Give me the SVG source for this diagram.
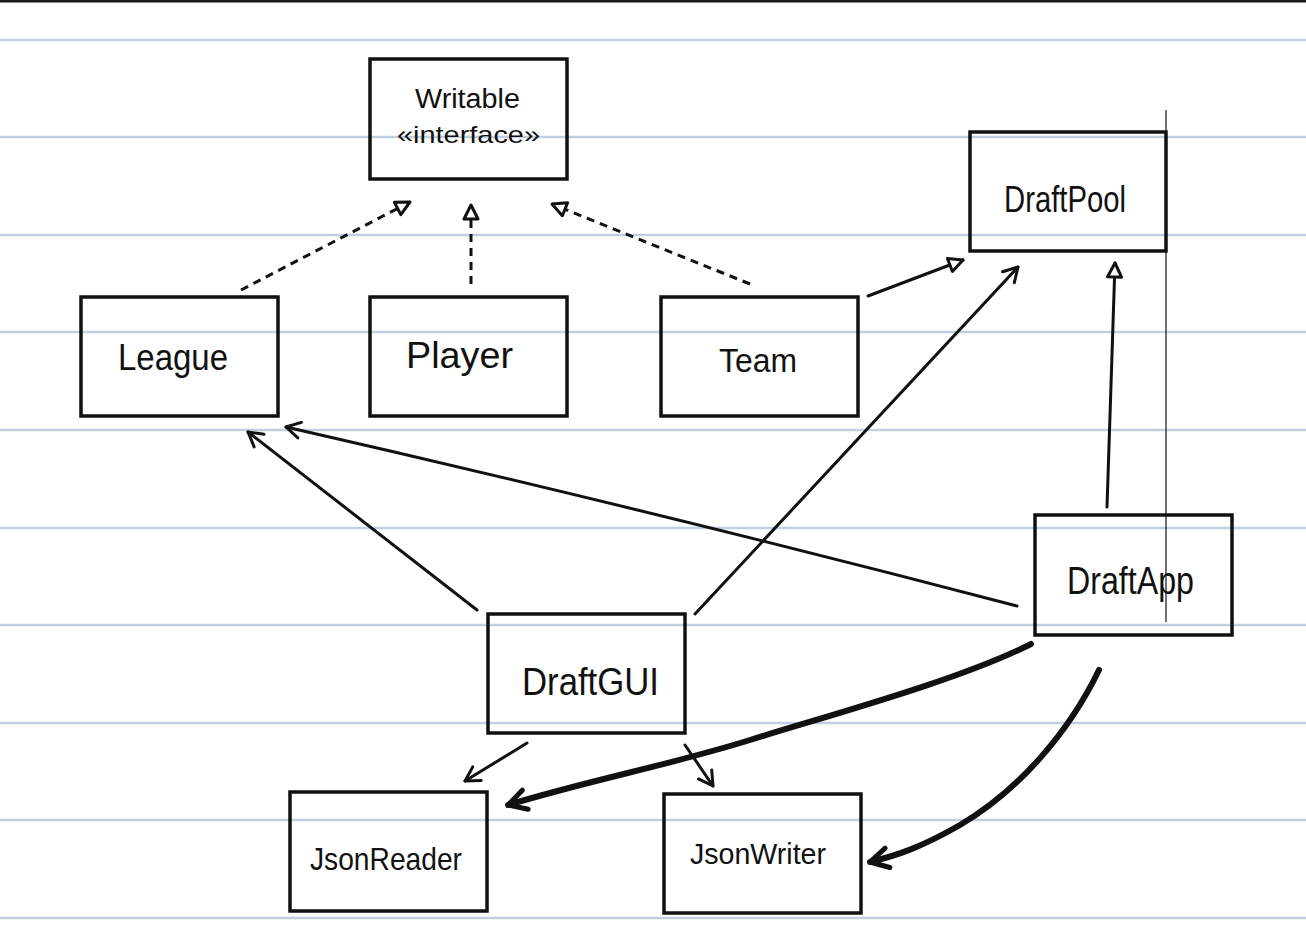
<svg xmlns="http://www.w3.org/2000/svg" width="1306" height="950" viewBox="0 0 1306 950">
<defs>
<style>
.rule{stroke:#c3cfe0;stroke-width:2.5}
.box{fill:none;stroke:#111;stroke-width:3.5}
.lbl{font-family:"Liberation Sans",Arial,sans-serif;fill:#111;text-anchor:start}
.dash{fill:none;stroke:#111;stroke-width:3;stroke-dasharray:8 6}
.ln{fill:none;stroke:#111;stroke-width:3;stroke-linecap:round}
.thick{fill:none;stroke:#111;stroke-width:6;stroke-linecap:round}
</style>
<marker id="tri" viewBox="0 0 20 20" refX="17" refY="10" markerWidth="20" markerHeight="20" markerUnits="userSpaceOnUse" orient="auto">
<path d="M3,3 L17,10 L3,17 Z" fill="#fff" stroke="#111" stroke-width="3" stroke-linejoin="round"/>
</marker>
<marker id="vee" viewBox="0 0 20 20" refX="18" refY="10" markerWidth="20" markerHeight="20" markerUnits="userSpaceOnUse" orient="auto">
<path d="M4,2 L18,10 L4,18" fill="none" stroke="#111" stroke-width="3" stroke-linecap="round" stroke-linejoin="round"/>
</marker>
<marker id="veeT" viewBox="0 0 26 26" refX="23" refY="13" markerWidth="26" markerHeight="26" markerUnits="userSpaceOnUse" orient="auto">
<path d="M5,3 L23,13 L5,23" fill="none" stroke="#111" stroke-width="5" stroke-linecap="round" stroke-linejoin="round"/>
</marker>
</defs>
<rect x="0" y="0" width="1306" height="950" fill="#fff"/>
<g id="paper">
<line x1="0" y1="1" x2="1306" y2="1" stroke="#1a1a1a" stroke-width="3"/>
<line class="rule" x1="0" y1="40" x2="1306" y2="40"/>
<line class="rule" x1="0" y1="137" x2="1306" y2="137"/>
<line class="rule" x1="0" y1="235" x2="1306" y2="235"/>
<line class="rule" x1="0" y1="332" x2="1306" y2="332"/>
<line class="rule" x1="0" y1="430" x2="1306" y2="430"/>
<line class="rule" x1="0" y1="528" x2="1306" y2="528"/>
<line class="rule" x1="0" y1="625" x2="1306" y2="625"/>
<line class="rule" x1="0" y1="723" x2="1306" y2="723"/>
<line class="rule" x1="0" y1="820" x2="1306" y2="820"/>
<line class="rule" x1="0" y1="918" x2="1306" y2="918"/>
<line x1="1166" y1="110" x2="1166" y2="622" stroke="#111" stroke-width="1.2"/>
</g>
<g id="connectors">
<path class="dash" d="M241,290 L410,202" marker-end="url(#tri)"/>
<path class="dash" d="M471,284 L471,205" marker-end="url(#tri)"/>
<path class="dash" d="M750,284 L552,204" marker-end="url(#tri)"/>
<path class="ln" d="M868,296 L963,260" marker-end="url(#tri)"/>
<path class="ln" d="M1107,507 L1115,263" marker-end="url(#tri)"/>
<path class="ln" d="M695,614 L1018,267" marker-end="url(#vee)"/>
<path class="ln" d="M477,610 L248,432" marker-end="url(#vee)"/>
<path class="ln" d="M1017,606 Q650,510 286,427" marker-end="url(#vee)"/>
<path class="ln" d="M527,743 L465,781" marker-end="url(#vee)"/>
<path class="ln" d="M685,745 L713,786" marker-end="url(#vee)"/>
<path class="thick" d="M1031,644 C960,680 830,715 750,740 S590,780 508,805" marker-end="url(#veeT)"/>
<path class="thick" d="M1099,670 C1070,730 1020,790 960,825 C920,848 895,856 870,862" marker-end="url(#veeT)"/>
</g>
<g id="writable">
<rect class="box" x="370" y="59" width="197" height="120"/>
<text class="lbl" x="415" y="108" font-size="27" textLength="105" lengthAdjust="spacingAndGlyphs">Writable</text>
<text class="lbl" x="397" y="143" font-size="24" textLength="143" lengthAdjust="spacingAndGlyphs">«interface»</text>
</g>
<g id="draftpool">
<rect class="box" x="970" y="132" width="196" height="119"/>
<text class="lbl" x="1004" y="212" font-size="36" textLength="122" lengthAdjust="spacingAndGlyphs">DraftPool</text>
</g>
<g id="league">
<rect class="box" x="81" y="297" width="197" height="119"/>
<text class="lbl" x="118" y="370" font-size="36" textLength="110" lengthAdjust="spacingAndGlyphs">League</text>
</g>
<g id="player">
<rect class="box" x="370" y="297" width="197" height="119"/>
<text class="lbl" x="406" y="368" font-size="36" textLength="107" lengthAdjust="spacingAndGlyphs">Player</text>
</g>
<g id="team">
<rect class="box" x="661" y="297" width="197" height="119"/>
<text class="lbl" x="719" y="372" font-size="34" textLength="78" lengthAdjust="spacingAndGlyphs">Team</text>
</g>
<g id="draftapp">
<rect class="box" x="1035" y="515" width="197" height="120"/>
<text class="lbl" x="1067" y="594" font-size="38" textLength="127" lengthAdjust="spacingAndGlyphs">DraftApp</text>
</g>
<g id="draftgui">
<rect class="box" x="488" y="614" width="197" height="119"/>
<text class="lbl" x="522" y="695" font-size="38" textLength="137" lengthAdjust="spacingAndGlyphs">DraftGUI</text>
</g>
<g id="jsonreader">
<rect class="box" x="290" y="792" width="197" height="119"/>
<text class="lbl" x="310" y="870" font-size="32" textLength="152" lengthAdjust="spacingAndGlyphs">JsonReader</text>
</g>
<g id="jsonwriter">
<rect class="box" x="664" y="794" width="197" height="119"/>
<text class="lbl" x="690" y="864" font-size="30" textLength="136" lengthAdjust="spacingAndGlyphs">JsonWriter</text>
</g>
</svg>
